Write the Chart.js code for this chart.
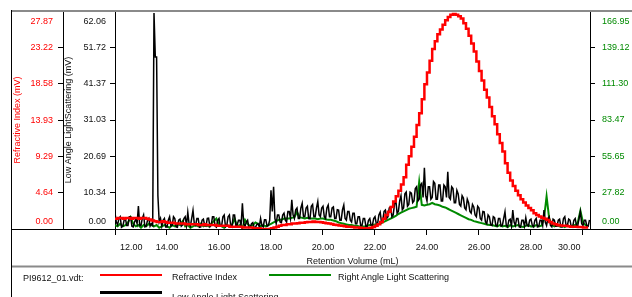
<!DOCTYPE html>
<html><head><meta charset="utf-8">
<script src="https://cdn.jsdelivr.net/npm/chart.js@4.4.0/dist/chart.umd.min.js"></script>
<style>
html,body{margin:0;padding:0;background:#fff;overflow:hidden}
#wrap{position:relative;width:632px;height:297px;font-family:'Liberation Sans',Arial,Helvetica,sans-serif;font-size:9px;color:#111}
#c{position:absolute;left:0;top:0}
.lg{position:absolute;white-space:nowrap;line-height:10px}
.sw{position:absolute;height:2.5px;width:62px}
</style></head><body>
<div id="wrap">
<canvas id="c" width="632" height="297"></canvas>
<div class="lg" style="left:23px;top:273px">PI9612_01.vdt:</div>
<div class="sw" style="left:100px;top:273.5px;background:#ff0000"></div>
<div class="lg" style="left:172px;top:272px">Refractive Index</div>
<div class="sw" style="left:269px;top:273.5px;background:#008a00"></div>
<div class="lg" style="left:338px;top:272px">Right Angle Light Scattering</div>
<div class="sw" style="left:100px;top:291px;background:#000"></div>
<div class="lg" style="left:172px;top:292px">Low Angle Light Scattering</div>
</div>
<script>
// Retention volume grid (mL) for RI and RALS
const volumes = [
12.0,12.1,12.2,12.3,12.4,12.5,12.6,12.7,12.8,12.9,
13.0,13.1,13.2,13.3,13.4,13.5,13.6,13.7,13.8,13.9,
14.0,14.1,14.2,14.3,14.4,14.5,14.6,14.7,14.8,14.9,
15.0,15.1,15.2,15.3,15.4,15.5,15.6,15.7,15.8,15.9,
16.0,16.1,16.2,16.3,16.4,16.5,16.6,16.7,16.8,16.9,
17.0,17.1,17.2,17.3,17.4,17.5,17.6,17.7,17.8,17.9,
18.0,18.1,18.2,18.3,18.4,18.5,18.6,18.7,18.8,18.9,
19.0,19.1,19.2,19.3,19.4,19.5,19.6,19.7,19.8,19.9,
20.0,20.1,20.2,20.3,20.4,20.5,20.6,20.7,20.8,20.9,
21.0,21.1,21.2,21.3,21.4,21.5,21.6,21.7,21.8,21.9,
22.0,22.1,22.2,22.3,22.4,22.5,22.6,22.7,22.8,22.9,
23.0,23.1,23.2,23.3,23.4,23.5,23.6,23.7,23.8,23.9,
24.0,24.1,24.2,24.3,24.4,24.5,24.6,24.7,24.8,24.9,
25.0,25.1,25.2,25.3,25.4,25.5,25.6,25.7,25.8,25.9,
26.0,26.1,26.2,26.3,26.4,26.5,26.6,26.7,26.8,26.9,
27.0,27.1,27.2,27.3,27.4,27.5,27.6,27.7,27.8,27.9,
28.0,28.1,28.2,28.3,28.4,28.5,28.6,28.7,28.8,28.9,
29.0,29.1,29.2,29.3,29.4,29.5,29.6,29.7,29.8,29.9,
30.0,30.1,30.2];

// Finer retention volume grid (mL) for LALS
const lalsVolumes = [
12,12.05,12.1,12.15,12.2,12.25,12.3,12.35,12.4,12.45,12.5,12.55,12.6,12.65,12.7,12.75,12.8,12.85,12.9,12.95,
13,13.05,13.1,13.15,13.2,13.25,13.3,13.35,13.4,13.45,13.5,13.55,13.6,13.65,13.7,13.75,13.8,13.85,13.9,13.95,
14,14.05,14.1,14.15,14.2,14.25,14.3,14.35,14.4,14.45,14.5,14.55,14.6,14.65,14.7,14.75,14.8,14.85,14.9,14.95,
15,15.05,15.1,15.15,15.2,15.25,15.3,15.35,15.4,15.45,15.5,15.55,15.6,15.65,15.7,15.75,15.8,15.85,15.9,15.95,
16,16.05,16.1,16.15,16.2,16.25,16.3,16.35,16.4,16.45,16.5,16.55,16.6,16.65,16.7,16.75,16.8,16.85,16.9,16.95,
17,17.05,17.1,17.15,17.2,17.25,17.3,17.35,17.4,17.45,17.5,17.55,17.6,17.65,17.7,17.75,17.8,17.85,17.9,17.95,
18,18.05,18.1,18.15,18.2,18.25,18.3,18.35,18.4,18.45,18.5,18.55,18.6,18.65,18.7,18.75,18.8,18.85,18.9,18.95,
19,19.05,19.1,19.15,19.2,19.25,19.3,19.35,19.4,19.45,19.5,19.55,19.6,19.65,19.7,19.75,19.8,19.85,19.9,19.95,
20,20.05,20.1,20.15,20.2,20.25,20.3,20.35,20.4,20.45,20.5,20.55,20.6,20.65,20.7,20.75,20.8,20.85,20.9,20.95,
21,21.05,21.1,21.15,21.2,21.25,21.3,21.35,21.4,21.45,21.5,21.55,21.6,21.65,21.7,21.75,21.8,21.85,21.9,21.95,
22,22.05,22.1,22.15,22.2,22.25,22.3,22.35,22.4,22.45,22.5,22.55,22.6,22.65,22.7,22.75,22.8,22.85,22.9,22.95,
23,23.05,23.1,23.15,23.2,23.25,23.3,23.35,23.4,23.45,23.5,23.55,23.6,23.65,23.7,23.75,23.8,23.85,23.9,23.95,
24,24.05,24.1,24.15,24.2,24.25,24.3,24.35,24.4,24.45,24.5,24.55,24.6,24.65,24.7,24.75,24.8,24.85,24.9,24.95,
25,25.05,25.1,25.15,25.2,25.25,25.3,25.35,25.4,25.45,25.5,25.55,25.6,25.65,25.7,25.75,25.8,25.85,25.9,25.95,
26,26.05,26.1,26.15,26.2,26.25,26.3,26.35,26.4,26.45,26.5,26.55,26.6,26.65,26.7,26.75,26.8,26.85,26.9,26.95,
27,27.05,27.1,27.15,27.2,27.25,27.3,27.35,27.4,27.45,27.5,27.55,27.6,27.65,27.7,27.75,27.8,27.85,27.9,27.95,
28,28.05,28.1,28.15,28.2,28.25,28.3,28.35,28.4,28.45,28.5,28.55,28.6,28.65,28.7,28.75,28.8,28.85,28.9,28.95,
29,29.05,29.1,29.15,29.2,29.25,29.3,29.35,29.4,29.45,29.5,29.55,29.6,29.65,29.7,29.75,29.8,29.85,29.9,29.95,
30,30.05,30.1,30.15,30.2,30.25];

// Refractive Index (mV)
const refractiveIndex = [
1.3,1.4,1.4,1.3,1.4,1.4,1.3,1.4,1.4,1.3,
1.4,1.4,1.3,1.2,1.1,1.0,0.9,0.9,1.0,0.9,
0.8,0.8,0.8,0.7,0.7,0.7,0.7,0.6,0.6,0.6,
0.6,0.6,0.5,0.5,0.6,0.5,0.5,0.5,0.5,0.4,
0.4,0.4,0.4,0.4,0.3,0.3,0.3,0.3,0.3,0.2,
0.2,0.2,0.2,0.1,0.1,0.1,0.0,0.0,0.0,0.0,
0.1,0.2,0.3,0.4,0.5,0.5,0.6,0.6,0.7,0.7,
0.75,0.8,0.8,0.85,0.9,0.9,0.95,0.9,0.9,0.85,
0.8,0.75,0.7,0.65,0.55,0.5,0.45,0.4,0.35,0.3,
0.3,0.25,0.2,0.2,0.15,0.1,0.1,0.1,0.15,0.25,
0.4,0.6,0.9,1.3,1.8,2.2,2.8,3.5,4.2,4.9,
5.7,6.6,8.2,9.3,10.5,11.8,13.3,14.8,16.6,18.5,
20.0,21.5,23.0,24.0,24.9,25.5,26.1,26.7,27.1,27.4,
27.5,27.4,27.2,26.9,26.3,25.6,24.7,23.7,22.7,21.4,
20.2,19.0,17.8,16.8,15.6,14.4,13.4,12.1,11.0,9.9,
8.4,7.2,6.2,5.5,4.9,4.3,3.8,3.4,3.0,2.7,
2.4,2.0,1.8,1.6,1.45,1.3,1.15,0.9,0.7,0.6,
0.5,0.45,0.4,0.4,0.35,0.3,0.3,0.3,0.25,0.25,
0.2,0.2,0.2];

// Right Angle Light Scattering (mV)
const rightAngleLS = [
3,2,4,2,3,5,9,4,2,3,
1,3,2,4,3,2,3,1,2,3,
2,1,3,2,4,3,6,2,3,1,
2,3,2,4,2,3,2,4,6,8,
3,2,1,3,2,3,8,2,3,1,
7,4,2,3,5,4,2,3,2,3,
4,5,6,7,7,8,8,8,8.5,9,
13,9,8.5,8,8.5,8,8,8,7.5,8,
8,7.5,7,7,6.5,6,5,4.5,4,3.5,
3,3,2.5,2.5,2,2,2,2.5,3,3,
3.5,3.5,4,5,6,7,8,9,10,11.5,
12.5,13.5,14.5,15.5,16,16.5,17,36,18.5,18,
18.5,19,20,19,18.5,18,17,16.5,15.5,14.5,
13.5,12.5,11.5,10.5,9.5,8.5,7.5,7,6,5.5,
5,4.5,4,3.5,3,3,2.5,2,3,2,
2.5,1.5,3,2,2.5,3,2,1.5,2.5,3,
2,2,3,2,2.5,8,25,8,3,2,
3,2,2.5,1.5,3,2,2.5,3,5,14,
5,3,2];

// Low Angle Light Scattering (mV)
const lowAngleLS = [
4.5,2,1.2,3,3.5,0.5,0.8,2.5,3,1,1,3.5,3.5,0.8,0.6,2,2.8,1.5,6.5,1,
1,3,4,0.6,0.8,2.5,3,0.8,1.5,1,61.5,49,49,9.5,2,3,0.8,2.5,3,0.6,
0.6,2.5,3.5,0.8,1,3.5,3,0.6,0.5,2.5,2.8,0.8,1.2,3,3.5,1,4.8,1.5,0.8,3,
5.3,1.5,1,3,3,0.5,0.6,2.5,2.8,1,0.8,3,3.1,0.6,1,3.5,3.5,0.8,0.5,2.5,
3,0.8,0.8,3.5,4,0.6,1,3.5,4,1,0.6,4,4,0.8,1.2,2.5,2.5,1,7.3,1.5,
0.8,2,2.5,0.4,0.5,1.5,1.8,0.4,0.4,1.2,1.5,0.6,3,1,0.6,2.6,2.6,0.8,1,2.5,
11,5,12,3,1.5,4,4,2,1.8,4,4.5,2.5,2,5,5,3,8.3,4,3,5.5,
6,3,3,6,7.3,3.5,3.5,6,6.5,3,3,6.5,7,3.5,3.5,6,7.8,4,3.5,6,
6.5,3.5,3,6,6.8,3.5,3.5,6,6.3,3,3,5.5,5.4,2.5,2.5,5.5,6.8,3,2.5,5,
5,2.5,2,4.5,4.5,1.5,1.5,3.5,3.5,1,1,3,3,0.8,0.8,2.5,3,1,1,3,
3.5,1.5,1.5,4,4.8,2,2.5,5,5.4,3,3.5,6,6.3,3.5,4,7,8.3,4.5,5,8,
9.5,5.5,6,10,10.5,6.5,7,10.5,10.2,7.5,8,11.5,12,8,8.5,12.5,13,9,17.4,9.5,
8,12,12,8.5,9,13.5,13,8.5,8.5,12.5,12.5,8,8,12.5,12,9,16.3,9,8.5,12,
11.5,7.5,7.5,11,10,7,6.5,9.5,8.8,6,5.5,8.5,7.5,5,4.5,7,6.3,4,3.5,6.5,
6,3,2.5,5,4.9,2,1.5,4,3.5,1.2,1,3.5,3.2,1,0.8,3,3,0.8,1,3,
4.9,1,0.6,2.5,2.8,0.8,5.4,2,1,3,3,0.6,0.5,2.5,2.5,0.8,3.2,1,0.8,2.5,
2.8,1,0.6,2.5,3,0.6,0.8,2.5,2.5,1,5.4,2,1,3,3.5,1,0.6,2.8,2.5,0.8,
0.8,2.5,2.8,0.6,0.6,3,3.5,1,1,2.8,2.5,0.6,0.5,2.5,3,1,1,3,4.9,1.5,
1,2.5,2.5,0.8,0.8,2.6];

// Tick values
const xTicks = [12,14,16,18,20,22,24,26,28,30];
const riTicks = [0,4.64,9.29,13.93,18.58,23.22,27.87];
const lalsTicks = [0,10.34,20.69,31.03,41.37,51.72,62.06];
const ralsTicks = [0,27.82,55.65,83.47,111.30,139.12,166.95];

const FONT = "'Liberation Sans', Arial, Helvetica, sans-serif";
Chart.defaults.font.family = FONT;
Chart.defaults.font.size = 9;

const RED = '#ff0000', GREEN = '#008a00', BLACK = '#000000', TXT = '#111111';
const fmt = v => Number(v).toFixed(2);

function yScale(position, weight, ticksArr, color, titleText, titlePad, tickPad, width) {
  const n = ticksArr.length;
  return {
    type: 'linear', position, weight, min: 0, max: ticksArr[n - 1],
    afterBuildTicks: s => { s.ticks = ticksArr.map(v => ({ value: v })); },
    afterFit: s => { s.width = width; s.paddingTop = 0; s.paddingBottom = 0; },
    ticks: {
      color, padding: tickPad, autoSkip: false,
      callback: (v, i) => { const t = fmt(v); if (i === 0) return [t, '']; if (i === n - 1) return ['', t]; return t; },
      font: ctx => ({ family: FONT, size: 9, lineHeight: ctx.index === 0 ? '14px' : (ctx.index === n - 1 ? '22px' : 1.2) })
    },
    grid: { drawOnChartArea: false, drawTicks: true, tickLength: 5, color: BLACK },
    border: { display: true, color: BLACK, width: 1 },
    title: titleText ? { display: true, text: titleText, color, font: { family: FONT, size: 9 }, padding: { top: titlePad, bottom: 0 } } : { display: false }
  };
}

const frameLines = {
  id: 'frameLines',
  afterDraw(chart) {
    const { ctx, chartArea: ca, width, height } = chart;
    const left = chart.options.layout.padding.left;
    const xb = chart.scales.x.bottom;
    ctx.save();
    ctx.strokeStyle = '#8a8a8a'; ctx.lineWidth = 2;
    ctx.beginPath(); ctx.moveTo(left, ca.top); ctx.lineTo(width, ca.top); ctx.stroke();
    ctx.beginPath(); ctx.moveTo(left, xb - 0.5); ctx.lineTo(width, xb - 0.5); ctx.stroke();
    ctx.strokeStyle = BLACK; ctx.lineWidth = 1;
    ctx.beginPath(); ctx.moveTo(left, ca.bottom + 0.5); ctx.lineTo(width, ca.bottom + 0.5); ctx.stroke();
    ctx.beginPath(); ctx.moveTo(left + 0.5, ca.top - 1); ctx.lineTo(left + 0.5, height); ctx.stroke();
    ctx.restore();
  }
};

const mk = (xs, arr) => xs.map((x, i) => ({ x, y: arr[i] }));

new Chart(document.getElementById('c'), {
  type: 'line',
  data: {
    datasets: [
      { label: 'Refractive Index', data: mk(volumes, refractiveIndex), yAxisID: 'yRI', borderColor: RED, borderWidth: 2.5, pointRadius: 0, stepped: true, order: 0 },
      { label: 'Low Angle Light Scattering', data: mk(lalsVolumes, lowAngleLS), yAxisID: 'yLALS', borderColor: BLACK, borderWidth: 1.5, pointRadius: 0, order: 1 },
      { label: 'Right Angle Light Scattering', data: mk(volumes, rightAngleLS), yAxisID: 'yRALS', borderColor: GREEN, borderWidth: 2, pointRadius: 0, order: 2 }
    ]
  },
  options: {
    responsive: false, animation: false, devicePixelRatio: 1,
    layout: { padding: { left: 11, top: 11, right: 0, bottom: 30 } },
    plugins: { legend: { display: false }, tooltip: { enabled: false } },
    scales: {
      x: {
        type: 'linear', min: 12, max: 30.27,
        afterBuildTicks: s => { s.ticks = xTicks.map(v => ({ value: v })); },
        afterFit: s => { s.height = 38; s.paddingLeft = 0; s.paddingRight = 0; },
        ticks: {
          align: 'inner', padding: 7, color: TXT, maxRotation: 0, autoSkip: false,
          callback: (v, i) => i === 0 ? '  ' + fmt(v) : (i === xTicks.length - 1 ? fmt(v) + ' ' : fmt(v))
        },
        grid: { drawOnChartArea: false, drawTicks: true, tickLength: 6, color: BLACK },
        border: { display: true, color: BLACK },
        title: { display: true, text: 'Retention Volume (mL)', color: TXT, padding: { top: 0, bottom: 0 } }
      },
      yRI: yScale('left', 2, riTicks, RED, 'Refractive Index (mV)', 1, 5, 52),
      yLALS: yScale('left', 1, lalsTicks, TXT, 'Low Angle LightScattering (mV)', 0, 4, 52),
      yRALS: yScale('right', 1, ralsTicks, GREEN, null, 0, 7, 42)
    }
  },
  plugins: [frameLines]
});
</script>
</body></html>
